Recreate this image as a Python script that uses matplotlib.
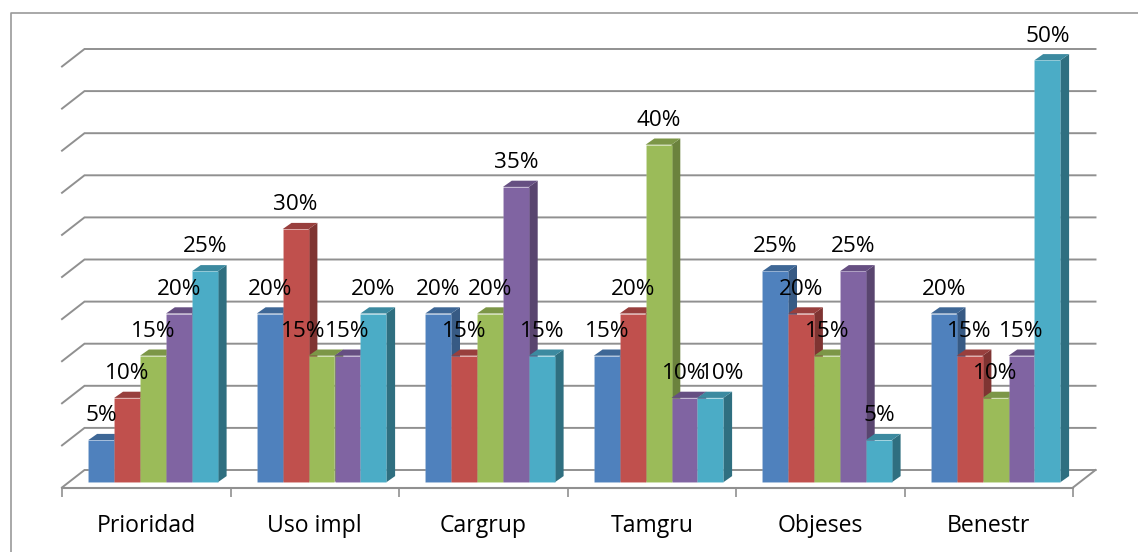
import matplotlib
matplotlib.use("Agg")
import matplotlib.pyplot as plt
from matplotlib.lines import Line2D

categories = ["Prioridad", "Uso impl", "Cargrup", "Tamgru", "Objeses", "Benestr"]
serie_1 = [5, 20, 20, 15, 25, 20]
serie_2 = [10, 30, 15, 20, 20, 15]
serie_3 = [15, 15, 20, 40, 15, 10]
serie_4 = [20, 15, 35, 10, 25, 15]
serie_5 = [25, 20, 15, 10, 5, 50]
series = [serie_1, serie_2, serie_3, serie_4, serie_5]
grid_levels = [0, 5, 10, 15, 20, 25, 30, 35, 40, 45, 50]

front_cols = ["#4F81BD", "#C0504D", "#9BBB59", "#8064A2", "#4BACC6"]
top_cols = ["#3E6796", "#983F3D", "#7C9647", "#664F82", "#3C8AA0"]
side_cols = ["#375A84", "#7F3432", "#6B823D", "#59456F", "#2F6F80"]
GRAY = "#909090"
W, H = 1138, 552
FONT = "Open Sans"
FS = 16.2
FS_CAT = 16.6

# pixel geometry
X0, X1 = 62, 1073
Y_BASE = 482.3
PX_PER_PCT = 8.44
Y_FLOOR = 487.5
Y_TOP = 40
px_x = (X1 - X0) / 6
sx = 1 / px_x
sy = 1 / PX_PER_PCT

# labels nudged sideways in the reference (group, series): pixels
label_shift = {(1, 2): -18, (3, 4): 11.6}

fig = plt.figure(figsize=(W / 100, H / 100), dpi=100, facecolor="white")
ax = fig.add_axes([X0 / W, 1 - Y_FLOOR / H, (X1 - X0) / W, (Y_FLOOR - Y_TOP) / H])
ax.set_xlim(0, 6)
ax.set_ylim((Y_BASE - Y_FLOOR) * sy, (Y_BASE - Y_TOP) * sy)
ax.patch.set_visible(False)
for s in ["top", "left", "right"]:
    ax.spines[s].set_visible(False)
ax.spines["bottom"].set_color(GRAY)
ax.spines["bottom"].set_linewidth(1.5)
ax.yaxis.set_visible(False)
ax.set_xticks(range(7))
ax.set_xticklabels([""] * 7)
ax.set_xticks([i + 0.5 for i in range(6)], categories, minor=True, fontfamily=FONT, fontsize=FS_CAT, color="black")
ax.tick_params(axis="x", which="major", length=6.2, width=1.2, color=GRAY)
ax.tick_params(axis="x", which="minor", length=0, pad=19)

# grid on floor/back wall
wdx, wdy = 22.5 * sx, 17.5 * sy
y0 = (Y_BASE - Y_FLOOR) * sy
step = 42.1 * sy / 5
for g in grid_levels:
    yy = y0 + g * step
    ax.plot([0, wdx, 6 + wdx], [yy, yy + wdy, yy + wdy], color=GRAY, lw=1.4, zorder=1,
            clip_on=False, solid_joinstyle="miter")
# right floor edge
ax.plot([6, 6 + wdx], [y0, y0 + wdy], color=GRAY, lw=1.4, zorder=1, clip_on=False)

# bars
bw = 25.9 * sx
start = (88.3 - X0) * sx
ddx, ddy = 8.8 * sx, 6.2 * sy
z = 3
for c in range(6):
    for i, s in enumerate(series):
        v = s[c]
        x = c + start + i * bw
        ax.fill([x + bw, x + bw + ddx, x + bw + ddx, x + bw],
                [0, ddy, v + ddy, v], color=side_cols[i], lw=0, zorder=z, clip_on=False)
        ax.fill([x, x + ddx, x + bw + ddx, x + bw],
                [v, v + ddy, v + ddy, v], color=top_cols[i], lw=0, zorder=z, clip_on=False)
        ax.bar(x, v, width=bw, align="edge", color=front_cols[i], edgecolor=(1, 1, 1, 0.12),
               lw=0.5, zorder=z + 0.1, clip_on=False)
        z += 0.2

# data labels
for c in range(6):
    for i, s in enumerate(series):
        v = s[c]
        x = c + start + (i + 0.5) * bw
        dx = label_shift.get((c, i), 0)
        ax.annotate(f"{v}%", (x, v), xytext=(dx * 0.72, 24.3 * 0.72), textcoords="offset points",
                    ha="center", va="center", fontfamily=FONT, fontsize=FS, color="black", zorder=50)

# outer frame: only top and left edges are visible
fig.add_artist(Line2D([11 / W, 11 / W, 1], [0, 1 - 12.7 / H, 1 - 12.7 / H], color="#9A9A9A", lw=1.2))

fig.savefig("out.png", dpi=100, facecolor="white")
